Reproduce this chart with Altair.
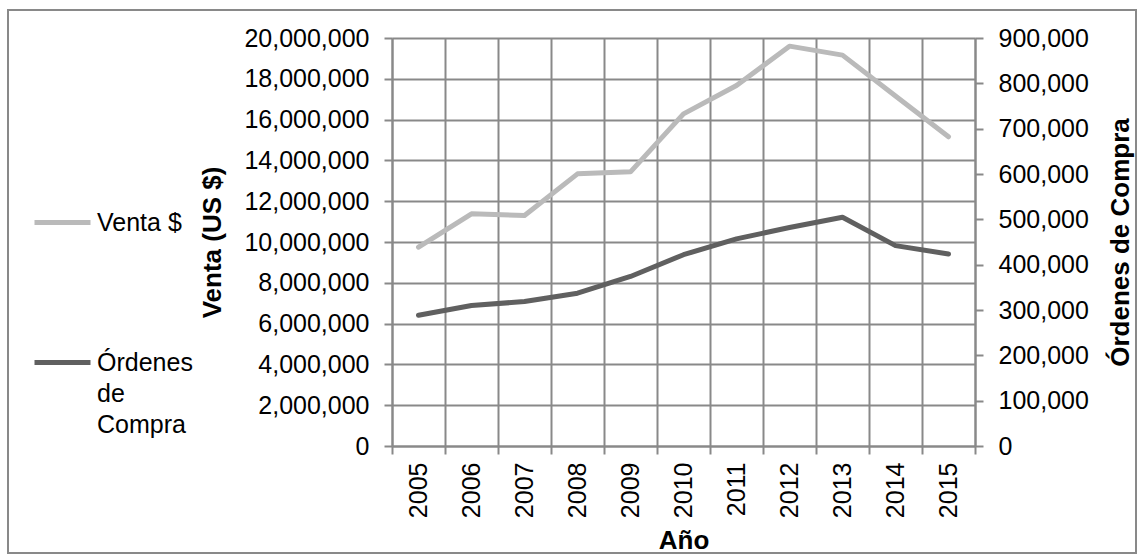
import altair as alt
import pandas as pd

# Annual sales (US $) and purchase orders, 2005-2015
years = list(range(2005, 2016))
venta = [9750000, 11380000, 11300000, 13340000, 13440000, 16280000,
         17670000, 19600000, 19160000, 17160000, 15160000]
ordenes = [288500, 309800, 318700, 337000, 374000, 422000,
           457000, 482000, 504600, 442000, 423500]

series = ["Venta $", "Órdenes de Compra"]
colors = ["#bababa", "#606060"]

left_ticks = list(range(0, 20000001, 2000000))
right_ticks = list(range(0, 900001, 100000))
year_edges = [y - 0.5 for y in years] + [years[-1] + 0.5]

FONT = "Liberation Sans"
GRID = "#898989"

df_venta = pd.DataFrame({"year": years, "valor": venta, "serie": series[0]})
df_ord = pd.DataFrame({"year": years, "valor": ordenes, "serie": series[1]})

x_enc = alt.X(
    "year:Q",
    scale=alt.Scale(domain=[year_edges[0], year_edges[-1]], nice=False, zero=False),
    axis=alt.Axis(
        values=year_edges,
        labelExpr="datum.value > 2015 ? '' : format(datum.value + 0.5, 'd')",
        labelOffset=26.5,
        labelAngle=270,
        labelAlign="right",
        labelBaseline="middle",
        labelPadding=8,
        labelFontSize=25,
        labelOverlap=False,
        labelFlush=False,
        tickSize=8,
        grid=True,
        title="Año",
        titleX=291.5,
        titleY=94,
        titleAlign="center",
        titleBaseline="middle",
    ),
)

color_enc = alt.Color(
    "serie:N",
    scale=alt.Scale(domain=series, range=colors),
    legend=alt.Legend(
        orient="none",
        legendX=-360,
        legendY=154,
        title=None,
        direction="vertical",
        symbolType="stroke",
        symbolSize=3136,
        symbolStrokeWidth=5,
        labelFontSize=25,
        labelFont=FONT,
        labelColor="black",
        labelOffset=4,
        labelLimit=0,
        rowPadding=96,
        padding=0,
        labelBaseline="middle",
        labelExpr="datum.label == 'Órdenes de Compra' ? ['Órdenes', 'de', 'Compra'] : datum.label",
    ),
)

frame = alt.Chart(pd.DataFrame({"k": [0]})).mark_rect(
    fill="transparent", stroke=GRID, strokeWidth=2
).encode(
    x=alt.value(-384), x2=alt.value(744), y=alt.value(-28), y2=alt.value(515)
)

line_venta = alt.Chart(df_venta).mark_line(strokeWidth=5, strokeCap="round", strokeJoin="round").encode(
    x=x_enc,
    y=alt.Y(
        "valor:Q",
        scale=alt.Scale(domain=[0, 20000000], nice=False),
        axis=alt.Axis(
            orient="left",
            values=left_ticks,
            format=",d",
            labelFontSize=25,
            labelPadding=15,
            tickSize=8,
            grid=True,
            title="Venta (US $)",
            titleAngle=270,
            titleX=-180,
            titleY=204,
            titleAlign="center",
            titleBaseline="middle",
        ),
    ),
    color=color_enc,
)

line_ord = alt.Chart(df_ord).mark_line(strokeWidth=5, strokeCap="round", strokeJoin="round").encode(
    x=x_enc,
    y=alt.Y(
        "valor:Q",
        scale=alt.Scale(domain=[0, 900000], nice=False),
        axis=alt.Axis(
            orient="right",
            values=right_ticks,
            format=",d",
            labelFontSize=25,
            labelPadding=15,
            tickSize=8,
            grid=False,
            title="Órdenes de Compra",
            titleAngle=270,
            titleX=145,
            titleY=204,
            titleAlign="center",
            titleBaseline="middle",
        ),
    ),
    color=color_enc,
)

chart = (
    alt.layer(frame, line_venta, line_ord)
    .resolve_scale(y="independent")
    .properties(
        width=583,
        height=408,
        autosize="none",
        padding={"left": 392, "top": 38, "right": 163, "bottom": 108},
    )
    .configure(background="white", style={"guide-label": {"lineHeight": 31}})
    .configure_view(stroke="transparent")
    .configure_axis(
        labelFont=FONT,
        labelColor="black",
        titleFont=FONT,
        titleColor="black",
        titleFontSize=26,
        titleFontWeight="bold",
        domainColor=GRID,
        domainWidth=2,
        tickColor=GRID,
        tickWidth=2,
        gridColor=GRID,
        gridWidth=2,
        gridOpacity=1,
    )
)

chart.save("out.html", embed_options={"renderer": "svg", "actions": False})
